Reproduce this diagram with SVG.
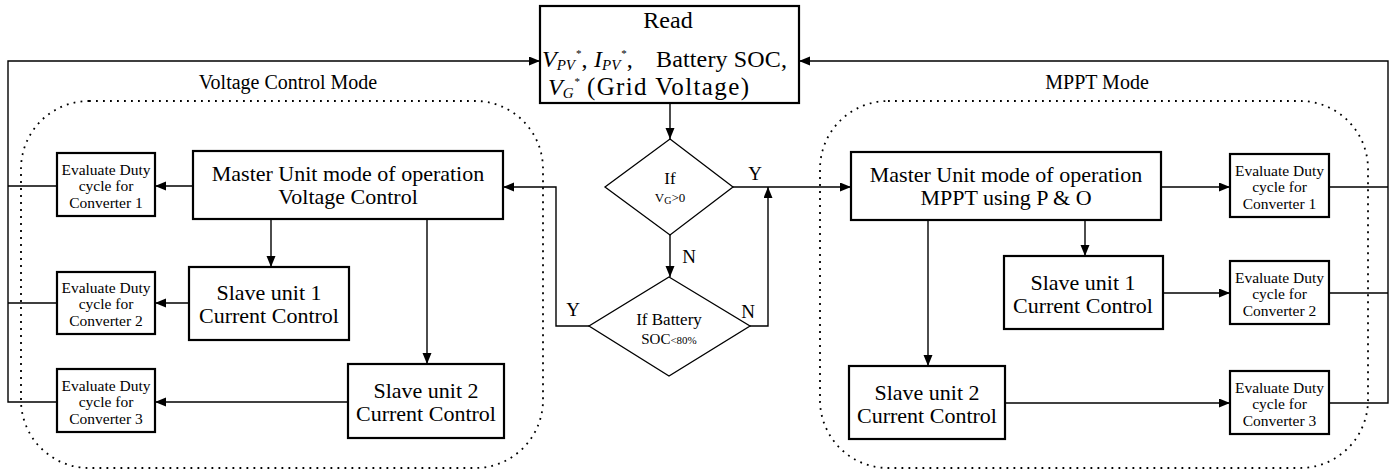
<svg xmlns="http://www.w3.org/2000/svg" width="1391" height="472" viewBox="0 0 1391 472" font-family="'Liberation Serif', 'DejaVu Serif', serif">
<style>
.box{fill:#fff;stroke:#000;stroke-width:2.2}
.dia{fill:#fff;stroke:#000;stroke-width:1.3}
.ln{fill:none;stroke:#000;stroke-width:1.4}
.dot{fill:none;stroke:#000;stroke-width:1.8;stroke-dasharray:1.8 5.2}
text{font-family:'Liberation Serif','DejaVu Serif',serif;fill:#000}
.big{font-size:22px;text-anchor:middle}
.ev{font-size:15.5px;text-anchor:middle}
.lbl{font-size:19px;text-anchor:middle}
.mode{font-size:20px;text-anchor:middle}
.rd{font-size:24px}
.it{font-style:italic}
</style>
<defs>
<marker id="ah" markerUnits="userSpaceOnUse" markerWidth="12" markerHeight="10" refX="11" refY="4.5" orient="auto">
<path d="M0,0 L11,4.5 L0,9 z" fill="#000"/>
</marker>
</defs>
<rect width="1391" height="472" fill="#fff"/>

<g id="regions">
<rect class="dot" x="21" y="101" width="522" height="367" rx="68"/>
<rect class="dot" x="820" y="101" width="548" height="367" rx="68"/>
<text class="mode" x="288" y="89">Voltage Control Mode</text>
<text class="mode" x="1097" y="89">MPPT Mode</text>
</g>

<g id="connectors">
<path class="ln" d="M57,186 H8 M57,303 H8 M57,402 H8 V61 H540" marker-end="url(#ah)"/>
<path class="ln" d="M1329,187 H1388 M1329,293 H1388 M1329,403 H1388 V61 H799" marker-end="url(#ah)"/>
<path class="ln" d="M670,103 V139" marker-end="url(#ah)"/>
<path class="ln" d="M733,187 H851" marker-end="url(#ah)"/>
<path class="ln" d="M670,235 V277" marker-end="url(#ah)"/>
<path class="ln" d="M589,326 H556 V187 H503" marker-end="url(#ah)"/>
<path class="ln" d="M750,326 H768 V187" marker-end="url(#ah)"/>
<path class="ln" d="M193,186 H155" marker-end="url(#ah)"/>
<path class="ln" d="M271,219 V267" marker-end="url(#ah)"/>
<path class="ln" d="M427,219 V364" marker-end="url(#ah)"/>
<path class="ln" d="M189,303 H155" marker-end="url(#ah)"/>
<path class="ln" d="M348,402 H155" marker-end="url(#ah)"/>
<path class="ln" d="M1161,187 H1230" marker-end="url(#ah)"/>
<path class="ln" d="M1085,220 V256" marker-end="url(#ah)"/>
<path class="ln" d="M928,220 V366" marker-end="url(#ah)"/>
<path class="ln" d="M1163,293 H1230" marker-end="url(#ah)"/>
<path class="ln" d="M1005,403 H1230" marker-end="url(#ah)"/>
<text class="lbl" x="755" y="180">Y</text>
<text class="lbl" x="689" y="263">N</text>
<text class="lbl" x="573" y="316">Y</text>
<text class="lbl" x="748" y="318">N</text>
</g>

<g id="read">
<rect class="box" x="540" y="6" width="259" height="97"/>
<text class="rd" x="668" y="28" text-anchor="middle">Read</text>
<text class="rd" y="67"><tspan class="it" x="542">V</tspan><tspan class="it" font-size="15" dy="3">PV</tspan><tspan font-size="11" dy="-13" dx="1">*</tspan><tspan dy="10">,</tspan><tspan class="it" x="594">I</tspan><tspan class="it" font-size="15" dy="3">PV</tspan><tspan font-size="11" dy="-13" dx="1">*</tspan><tspan dy="10">,</tspan><tspan x="656" textLength="131" lengthAdjust="spacing">Battery SOC,</tspan></text>
<text class="rd" y="95"><tspan class="it" x="548">V</tspan><tspan class="it" font-size="15" dy="3">G</tspan><tspan font-size="11" dy="-13" dx="1">*</tspan><tspan x="587" dy="10" font-size="25" textLength="162" lengthAdjust="spacing">(Grid Voltage)</tspan></text>
</g>

<g id="dec-vg">
<polygon class="dia" points="670,139 733,187 670,235 605,187"/>
<text x="670" y="184" font-size="17" text-anchor="middle">If</text>
<text x="670" y="202" font-size="13" text-anchor="middle">V<tspan font-size="10" dy="2">G</tspan><tspan dy="-2">&gt;0</tspan></text>
</g>

<g id="dec-soc">
<polygon class="dia" points="669,277 750,326 669,376 589,326"/>
<text x="669" y="325" font-size="17" text-anchor="middle">If Battery</text>
<text x="669" y="344" font-size="15" text-anchor="middle">SOC<tspan font-size="11">&lt;80%</tspan></text>
</g>

<g id="vc-master">
<rect class="box" x="193" y="151" width="310" height="68"/>
<text class="big" x="348" y="181">Master Unit mode of operation</text>
<text class="big" x="348" y="204">Voltage Control</text>
</g>
<g id="vc-slave1">
<rect class="box" x="189" y="267" width="160" height="73"/>
<text class="big" x="269" y="300">Slave unit 1</text>
<text class="big" x="269" y="323">Current Control</text>
</g>
<g id="vc-slave2">
<rect class="box" x="348" y="364" width="156" height="74"/>
<text class="big" x="426" y="398">Slave unit 2</text>
<text class="big" x="426" y="421">Current Control</text>
</g>
<g id="vc-eval1">
<rect class="box" x="57" y="153" width="98" height="63"/>
<text class="ev" x="106" y="175">Evaluate Duty</text>
<text class="ev" x="106" y="191">cycle for</text>
<text class="ev" x="106" y="208">Converter 1</text>
</g>
<g id="vc-eval2">
<rect class="box" x="57" y="272" width="98" height="62"/>
<text class="ev" x="106" y="293">Evaluate Duty</text>
<text class="ev" x="106" y="309">cycle for</text>
<text class="ev" x="106" y="326">Converter 2</text>
</g>
<g id="vc-eval3">
<rect class="box" x="57" y="369" width="98" height="63"/>
<text class="ev" x="106" y="391">Evaluate Duty</text>
<text class="ev" x="106" y="407">cycle for</text>
<text class="ev" x="106" y="424">Converter 3</text>
</g>

<g id="mppt-master">
<rect class="box" x="851" y="152" width="310" height="68"/>
<text class="big" x="1006" y="182">Master Unit mode of operation</text>
<text class="big" x="1006" y="205">MPPT using P &amp; O</text>
</g>
<g id="mppt-slave1">
<rect class="box" x="1004" y="256" width="159" height="73"/>
<text class="big" x="1083" y="290">Slave unit 1</text>
<text class="big" x="1083" y="313">Current Control</text>
</g>
<g id="mppt-slave2">
<rect class="box" x="849" y="366" width="156" height="73"/>
<text class="big" x="927" y="400">Slave unit 2</text>
<text class="big" x="927" y="423">Current Control</text>
</g>
<g id="mppt-eval1">
<rect class="box" x="1230" y="154" width="99" height="63"/>
<text class="ev" x="1279.5" y="176">Evaluate Duty</text>
<text class="ev" x="1279.5" y="192">cycle for</text>
<text class="ev" x="1279.5" y="209">Converter 1</text>
</g>
<g id="mppt-eval2">
<rect class="box" x="1230" y="261" width="99" height="63"/>
<text class="ev" x="1279.5" y="283">Evaluate Duty</text>
<text class="ev" x="1279.5" y="299">cycle for</text>
<text class="ev" x="1279.5" y="316">Converter 2</text>
</g>
<g id="mppt-eval3">
<rect class="box" x="1230" y="371" width="99" height="63"/>
<text class="ev" x="1279.5" y="393">Evaluate Duty</text>
<text class="ev" x="1279.5" y="409">cycle for</text>
<text class="ev" x="1279.5" y="426">Converter 3</text>
</g>
</svg>
